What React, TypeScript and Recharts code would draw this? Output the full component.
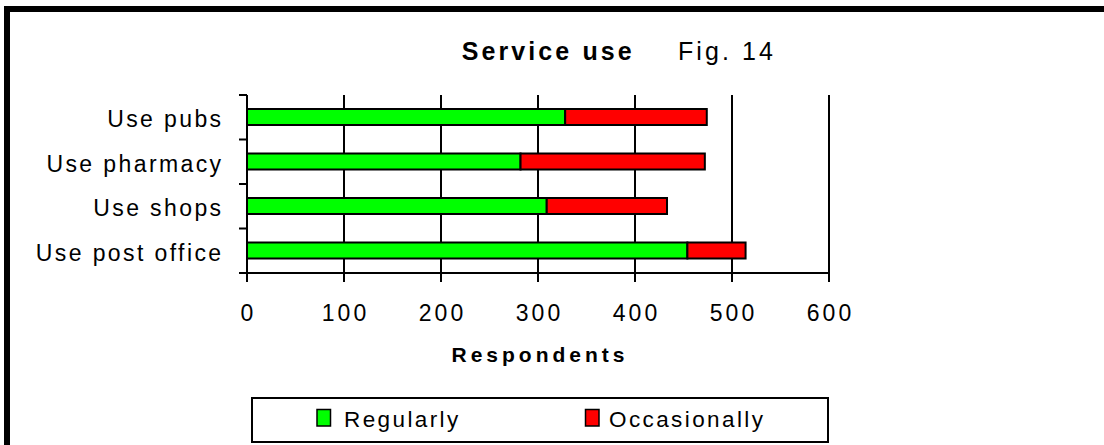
import React from 'react';
import { BarChart, Bar, XAxis, YAxis, CartesianGrid, Legend } from 'recharts';

const categories = ['Use pubs', 'Use pharmacy', 'Use shops', 'Use post office'];
const regularly = [328, 282, 309, 454];
const occasionally = [146, 190, 124, 60];
const xTicks = [0, 100, 200, 300, 400, 500, 600];
const seriesNames = ['Regularly', 'Occasionally'];
const seriesColors = ['#00ff00', '#ff0000'];
const titleMain = 'Service use';
const titleFig = 'Fig. 14';
const xAxisTitle = 'Respondents';

const data = categories.map((name, i) => ({
  name,
  regularly: regularly[i],
  occasionally: occasionally[i],
}));

const FONT = '"Liberation Sans", Arial, Helvetica, sans-serif';

function YTick(props: any) {
  const { x, y, payload, index } = props;
  const half = payload && typeof payload.offset === 'number' && payload.offset > 0 ? payload.offset : 22.25;
  const last = index === categories.length - 1;
  return (
    <g>
      <line x1={x} x2={x + 8} y1={y - half} y2={y - half} stroke="#000" strokeWidth={2} />
      {last && <line x1={x} x2={x + 8} y1={y + half} y2={y + half} stroke="#000" strokeWidth={2} />}
      <text
        x={x - 15.5}
        y={y + 10}
        textAnchor="end"
        fontFamily={FONT}
        fontSize={23}
        letterSpacing={2.4}
        fill="#000"
      >
        {payload.value}
      </text>
    </g>
  );
}

function XTick(props: any) {
  const { x, y, payload } = props;
  return (
    <text x={x + 1.5} y={y + 39} textAnchor="middle" fontFamily={FONT} fontSize={23} letterSpacing={3} fill="#000">
      {payload.value}
    </text>
  );
}

function AxisTitle(props: any) {
  const vb = props.viewBox || { x: 247, y: 273, width: 582 };
  return (
    <text
      x={vb.x + vb.width / 2 + 2}
      y={vb.y + 88.7}
      textAnchor="middle"
      fontFamily={FONT}
      fontSize={21}
      fontWeight="bold"
      letterSpacing={4}
      fill="#000"
    >
      {xAxisTitle}
    </text>
  );
}

function LegendBox(props: any) {
  const raw = props.payload && props.payload.length ? props.payload : seriesNames.map((n, i) => ({ value: n, color: seriesColors[i] }));
  const payload = [...raw].sort((a: any, b: any) => seriesNames.indexOf(a.value) - seriesNames.indexOf(b.value));
  const swatchX = [66, 334.5];
  const textX = [93, 358];
  return (
    <svg width={578} height={46} style={{ display: 'block' }}>
      <rect x={1} y={1} width={576} height={44} fill="#fff" stroke="#000" strokeWidth={2} />
      {payload.map((p: any, i: number) => (
        <g key={i}>
          <rect x={swatchX[i]} y={12.5} width={13.5} height={16.5} fill={p.color} stroke="#000" strokeWidth={1.5} />
          <text x={textX[i]} y={30} fontFamily={FONT} fontSize={22.5} letterSpacing={2.4} fill="#000">
            {p.value}
          </text>
        </g>
      ))}
    </svg>
  );
}

export default function App() {
  return (
    <div style={{ position: 'absolute', left: 0, top: 0, width: 1104, height: 445, overflow: 'hidden', background: '#fff' }}>
      <div
        style={{
          position: 'absolute',
          left: 4,
          top: 6,
          width: 1300,
          height: 600,
          border: '6px solid #000',
          boxSizing: 'border-box',
        }}
      />
      <div style={{ position: 'absolute', left: 0, top: 0 }}>
        <BarChart
          width={1104}
          height={445}
          data={data}
          layout="vertical"
          margin={{ top: 95, right: 275, bottom: 132, left: 0 }}
          barSize={16}
        >
          <CartesianGrid horizontal={false} vertical={true} stroke="#000" strokeWidth={2} />
          <XAxis
            type="number"
            domain={[0, 600]}
            ticks={xTicks}
            interval={0}
            height={40}
            tickSize={9}
            tickMargin={0}
            axisLine={{ stroke: '#000', strokeWidth: 2 }}
            tickLine={{ stroke: '#000', strokeWidth: 2 }}
            tick={<XTick />}
            label={<AxisTitle />}
          />
          <YAxis
            type="category"
            dataKey="name"
            width={247}
            tickSize={8}
            tickMargin={0}
            interval={0}
            axisLine={{ stroke: '#000', strokeWidth: 2 }}
            tickLine={false}
            tick={<YTick />}
          />
          <Legend
            layout="horizontal"
            verticalAlign="middle"
            align="center"
            wrapperStyle={{ left: 251, top: 397, width: 578, height: 46 }}
            content={<LegendBox />}
          />
          <Bar
            dataKey="regularly"
            name={seriesNames[0]}
            stackId="a"
            fill={seriesColors[0]}
            stroke="#000"
            strokeWidth={2}
            isAnimationActive={false}
          />
          <Bar
            dataKey="occasionally"
            name={seriesNames[1]}
            stackId="a"
            fill={seriesColors[1]}
            stroke="#000"
            strokeWidth={2}
            isAnimationActive={false}
          />
        </BarChart>
      </div>
      <svg width={1104} height={445} style={{ position: 'absolute', left: 0, top: 0, pointerEvents: 'none' }}>
        <text x={461.7} y={60} fontFamily={FONT} fontSize={25} fontWeight="bold" letterSpacing={3.1} fill="#000">
          {titleMain}
        </text>
        <text x={678} y={60} fontFamily={FONT} fontSize={25} letterSpacing={3.1} fill="#000">
          {titleFig}
        </text>
      </svg>
    </div>
  );
}
